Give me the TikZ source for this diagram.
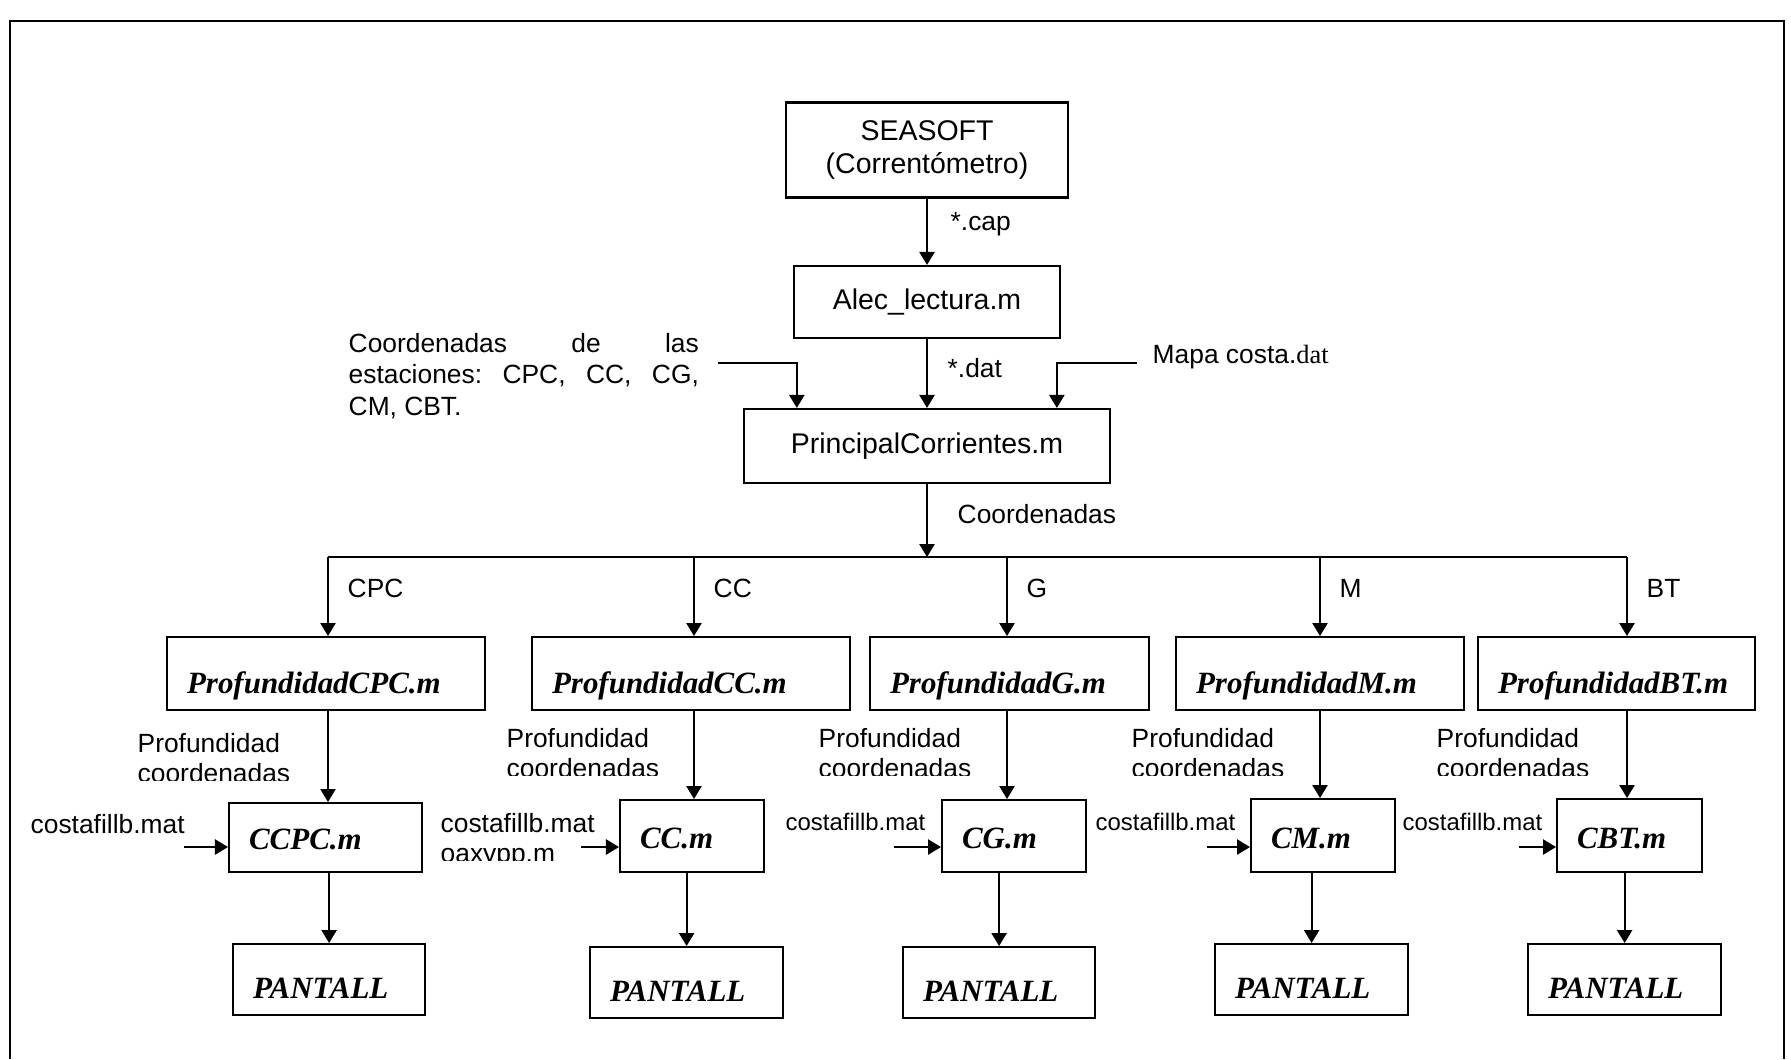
\documentclass[tikz,border=0pt]{standalone}
\usepackage{fontspec}
\setmainfont{Liberation Serif}
\setsansfont{Liberation Sans}
\usetikzlibrary{arrows.meta,calc}

\newcommand{\boxfont}{\sffamily\fontsize{8.1}{9.4}\selectfont}
\newcommand{\lblfont}{\sffamily\fontsize{7.5}{8.4}\selectfont}
\newcommand{\tinyfont}{\sffamily\fontsize{6.8}{7.8}\selectfont}
\newcommand{\progfont}{\rmfamily\bfseries\itshape\fontsize{8.8}{10}\selectfont}

\tikzset{
  box/.style={draw, line width=0.6pt, inner sep=0pt, align=center, font=\boxfont},
  prog/.style={draw, line width=0.6pt, inner xsep=0.2cm, inner ysep=0pt, align=left, anchor=north west, font=\progfont},
  arr/.style={line width=0.6pt, -{Triangle[length=3.7pt,width=4.3pt]}},
  lbl/.style={inner sep=0pt, anchor=base west, font=\lblfont},
}

\begin{document}
\begin{tikzpicture}[x=0.01cm, y=-0.01cm]
\useasboundingbox (0,0) rectangle (1791,1059);
% open frame
\draw[line width=0.8pt] (10,1059) -- (10,21) -- (1784,21) -- (1784,1059);

% Main chain
\node[box, minimum width=2.82cm, minimum height=0.95cm] (seasoft) at (927,150) {SEASOFT\\(Correntómetro)};
\node[box, minimum width=2.65cm, minimum height=0.72cm] (alec) at (927,302) {Alec\_lectura.m};
\node[box, minimum width=3.66cm, minimum height=0.74cm] (principal) at (927,446) {PrincipalCorrientes.m};
\draw[arr] (seasoft) -- (alec);
\draw[arr] (alec) -- (principal);
\node[lbl] (cap) at (950,230) {*.cap};
\node[lbl] (dat) at (947,377) {*.dat};

% extra inputs of PrincipalCorrientes
\node[lbl, text width=3.5cm, align=justify, font=\sffamily\fontsize{7.5}{9.0}\selectfont\frenchspacing] (estaciones) at (348,352) {Coordenadas de las\linebreak estaciones: CPC, CC, CG,\linebreak CM, CBT.};
\coordinate (estIn) at (718,363);
\draw[arr] (estIn) -| ($(principal.north west)+(54,0)$);
\node[lbl] (mapa) at (1152,363) {Mapa costa.\textrm{dat}};
\coordinate (mapaIn) at (1137,363);
\draw[arr] (mapaIn) -| ($(principal.north west)+(314,0)$);

% Depth programs
\node[prog, text width=2.78cm, text height=0.56cm, text depth=0.17cm] (prof1) at (166,636) {ProfundidadCPC.m};
\node[prog, text width=2.78cm, text height=0.56cm, text depth=0.17cm] (prof2) at (531,636) {ProfundidadCC.m};
\node[prog, text width=2.39cm, text height=0.56cm, text depth=0.17cm] (prof3) at (869,636) {ProfundidadG.m};
\node[prog, text width=2.48cm, text height=0.56cm, text depth=0.17cm] (prof4) at (1175,636) {ProfundidadM.m};
\node[prog, text width=2.37cm, text height=0.56cm, text depth=0.17cm] (prof5) at (1477,636) {ProfundidadBT.m};

% Current programs
\node[prog, text width=1.53cm, text height=0.46cm, text depth=0.23cm] (c1) at (228,802) {CCPC.m};
\node[prog, text width=1.04cm, text height=0.48cm, text depth=0.24cm] (c2) at (619,799) {CC.m};
\node[prog, text width=1.04cm, text height=0.48cm, text depth=0.24cm] (c3) at (941,799) {CG.m};
\node[prog, text width=1.04cm, text height=0.49cm, text depth=0.24cm] (c4) at (1250,798) {CM.m};
\node[prog, text width=1.05cm, text height=0.49cm, text depth=0.24cm] (c5) at (1556,798) {CBT.m};

% Output
\node[prog, text width=1.52cm, text height=0.54cm, text depth=0.17cm] (pant1) at (232,943) {PANTALL};
\node[prog, text width=1.53cm, text height=0.54cm, text depth=0.17cm] (pant2) at (589,946) {PANTALL};
\node[prog, text width=1.52cm, text height=0.54cm, text depth=0.17cm] (pant3) at (902,946) {PANTALL};
\node[prog, text width=1.53cm, text height=0.54cm, text depth=0.17cm] (pant4) at (1214,943) {PANTALL};
\node[prog, text width=1.53cm, text height=0.54cm, text depth=0.17cm] (pant5) at (1527,943) {PANTALL};

% Split by station
\foreach \i/\x/\lab in {1/328/CPC, 2/694/CC, 3/1007/G, 4/1320/M, 5/1627/BT} {
  \coordinate (b\i) at (\x,557);
  \draw[arr] (b\i) -- (b\i |- prof\i.north);
  \node[lbl] (bl\i) at ({\x+19},597) {\lab};
  \draw[arr] (b\i |- prof\i.south) -- (b\i |- c\i.north);
  \draw[arr] (pant\i |- c\i.south) -- (pant\i.north);
}
\draw[line width=0.6pt] (b1) -- (b5);
\draw[arr] (principal) -- (principal |- b1);
\node[lbl] (coord) at (957,523) {Coordenadas};

% Profundidad / coordenadas (cut off at the bottom)
\foreach \i/\x/\y in {1/137/753, 2/506/748, 3/818/748, 4/1131/748, 5/1436/748} {
  \begin{scope}
    \clip (\x,{\y-25}) rectangle ({\x+170},{\y+27});
    \node[lbl, align=left] (pc\i) at (\x,{\y+29.5}) {Profundidad\\coordenadas};
  \end{scope}
}

% costafillb.mat inputs
\node[lbl] (cf1) at (30,833) {costafillb.mat};
\begin{scope}
  \clip (440,805) rectangle (600,860);
  \node[lbl, align=left] (cf2) at (440,862.5) {costafillb.mat\\oaxypp.m};
\end{scope}
\node[lbl, font=\tinyfont] (cf3) at (785,830) {costafillb.mat};
\node[lbl, font=\tinyfont] (cf4) at (1095,830) {costafillb.mat};
\node[lbl, font=\tinyfont] (cf5) at (1402,830) {costafillb.mat};
\coordinate (in1) at (184,847);
\coordinate (in2) at (581,847);
\coordinate (in3) at (894,847);
\coordinate (in4) at (1207,847);
\coordinate (in5) at (1519,847);
\foreach \i in {1,...,5}
  \draw[arr] (in\i) -- (in\i -| c\i.west);
\end{tikzpicture}
\end{document}
